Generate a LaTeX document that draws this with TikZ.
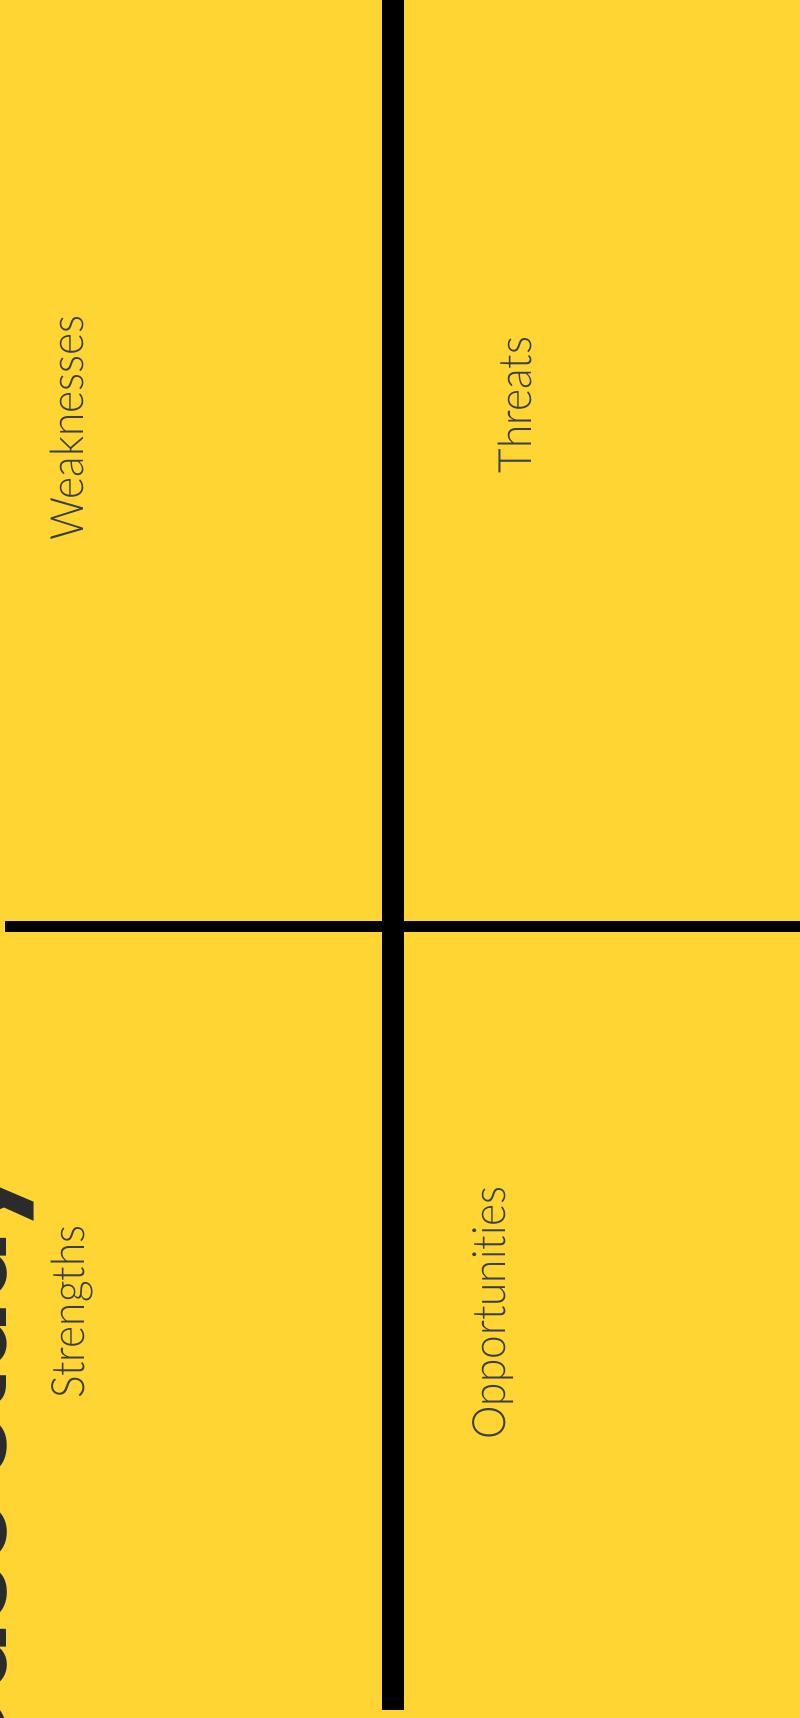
\documentclass[tikz,border=0pt]{standalone}
\usepackage{fontspec}
\usepackage{xcolor}
\usepackage{tikz}
\usetikzlibrary{positioning}
\newfontfamily\labelfont{Lato}[UprightFont=* Light, FakeStretch=0.92, Ligatures={NoCommon,NoRare}]
\newfontfamily\titlefont{Poppins}
\definecolor{swotyellow}{HTML}{FFD533}
\definecolor{swotink}{HTML}{3A3F45}
\definecolor{titleink}{HTML}{2B2B2B}
\tikzset{
  quadlabel/.style={rotate=90, anchor=base, inner sep=0pt, text=swotink,
    font=\labelfont\fontsize{46}{46}\selectfont},
  titlelabel/.style={rotate=90, anchor=base east, inner sep=0pt, text=titleink,
    font=\titlefont\bfseries\fontsize{104}{104}\selectfont},
  axisv/.style={draw=black, line width=22pt},
  axish/.style={draw=black, line width=11pt}
}

\begin{document}
\begin{tikzpicture}[x=1pt, y=-1pt]
\useasboundingbox (0,0) rectangle (800,1718);
\clip (0,0) rectangle (800,1718);
\fill[swotyellow] (0,0) rectangle (800,1718);
% title, mostly cut off at the left edge
\node[titlelabel] (title) at (6,1166) {Case Study};
% axes
\coordinate (vtop) at (393,0);
\coordinate (vbot) at (393,1710);
\coordinate (hleft) at (5,926.5);
\coordinate (hright) at (800,926.5);
\draw[axisv] (vtop) -- (vbot);
\draw[axish] (hleft) -- (hright);
% quadrant labels
\node[quadlabel] (weak) at (83,428) {Weaknesses};
\node[quadlabel] (threat) at (531,405) {Threats};
\node[quadlabel] (strong) at (84,1312) {Strengths};
\node[quadlabel] (opp) at (505,1313) {Opportunities};
\end{tikzpicture}
\end{document}
